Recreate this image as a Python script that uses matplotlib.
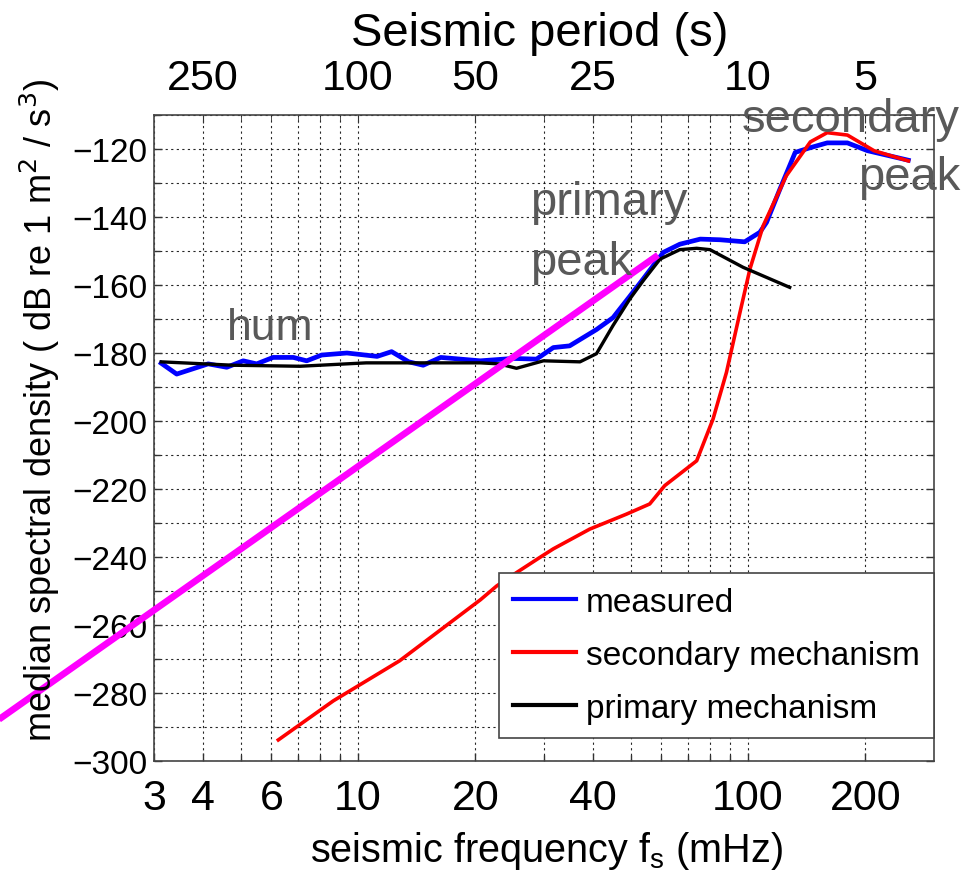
import matplotlib
matplotlib.use("Agg")
import matplotlib.pyplot as plt
from matplotlib.ticker import NullFormatter

plt.rcParams['font.family'] = ['Liberation Sans', 'DejaVu Sans']

# measured median spectral density
meas_f = [3.13, 3.43, 4.13, 4.61, 5.08, 5.5, 6.06, 6.83, 7.39, 8.07, 9.37, 11.2, 12.2,
          13.5, 14.7, 16.3, 20.6, 25.0, 28.7, 31.7, 34.9, 40.9, 45.1, 49.8, 53.9, 60.7,
          66.9, 75.5, 84.9, 98.1, 107.3, 111.6, 120.8, 132.2, 144.6, 159.7, 179.9, 202.6,
          257.8]
meas_db = [-183.0, -186.2, -183.2, -184.2, -182.3, -183.2, -181.3, -181.3, -182.3, -180.6,
           -180.0, -181.0, -179.6, -182.6, -183.6, -181.3, -182.3, -181.6, -181.8, -178.4,
           -177.9, -173.1, -169.6, -163.3, -158.2, -150.4, -148.0, -146.5, -146.7, -147.3,
           -144.5, -141.6, -131.8, -121.0, -119.6, -118.2, -118.2, -120.5, -123.3]

# secondary mechanism model
sec_f = [6.25, 8.65, 12.8, 20.6, 22.7, 25.5, 29.3, 31.7, 39.3, 48.8, 56.0, 61.2, 73.9,
         81.4, 88.1, 95.4, 101.2, 109.4, 125.4, 144.6, 159.7, 179.9, 210.5, 257.8]
sec_db = [-293.8, -282.3, -270.5, -252.6, -248.5, -244.6, -240.1, -237.6, -231.8, -227.4,
          -224.4, -219.0, -211.7, -199.4, -185.7, -168.1, -155.3, -142.6, -127.9, -117.9,
          -115.2, -115.9, -120.5, -123.5]

# primary mechanism model
prim_f = [3.13, 4.79, 7.1, 10.5, 20.6, 23.0, 25.5, 29.9, 37.1, 40.9, 45.1, 49.8, 53.9,
          59.5, 66.9, 73.9, 79.9, 97.2, 128.0]
prim_db = [-182.6, -183.6, -183.9, -182.9, -182.9, -183.2, -184.5, -182.3, -182.6, -180.2,
           -171.9, -164.1, -158.7, -152.4, -149.6, -149.2, -149.6, -154.8, -160.7]

# f^8 slope guide line
slope_f = [1.2, 58.8]
slope_db = [-287.8, -151.2]

xticks = [3, 4, 6, 10, 20, 40, 100, 200]
xminor = [5, 7, 8, 9, 30, 50, 60, 70, 80, 90]
period_ticks = [250, 100, 50, 25, 10, 5]
yticks = list(range(-300, -119, 20))
yminor = list(range(-290, -109, 20))

fig = plt.figure(figsize=(9.65, 8.78), dpi=100)
ax = fig.add_axes([154 / 965, (878 - 762) / 878, 780 / 965, 646 / 878])

ax.plot(meas_f, meas_db, color='#0000ff', lw=3.4, label='measured', zorder=3)
ax.plot(sec_f, sec_db, color='#ff0000', lw=2.6, label='secondary mechanism', zorder=4)
ax.plot(prim_f, prim_db, color='black', lw=2.4, label='primary mechanism', zorder=5)
ax.plot(slope_f, slope_db, color='#ff00ff', lw=4.8, clip_on=False, zorder=6,
        solid_capstyle='butt')

ax.set_xscale('log')
ax.set_xlim(3, 300)
ax.set_ylim(-300, -110)

ax.set_xticks(xticks)
ax.set_xticklabels([str(t) for t in xticks])
ax.set_xticks(xminor, minor=True)
ax.xaxis.set_minor_formatter(NullFormatter())
ax.set_yticks(yticks)
ax.set_yticks(yminor, minor=True)

ax.grid(which='both', color='black', linestyle=(0, (2, 3)), linewidth=0.8, alpha=0.85)
ax.tick_params(axis='x', which='both', direction='in', top=False, labelsize=31, pad=12)
ax.tick_params(axis='y', which='both', direction='in', right=True, labelsize=24, pad=5)
ax.tick_params(which='major', length=6, width=1, color='#333333')
ax.tick_params(which='minor', length=4, width=1, color='#333333')
for s in ax.spines.values():
    s.set_color('#444444')
    s.set_linewidth(1.2)

# top axis: seismic period
ax2 = ax.twiny()
ax2.set_xscale('log')
ax2.set_xlim(ax.get_xlim())
ax2.set_xticks([1000 / p for p in period_ticks])
ax2.set_xticklabels([str(p) for p in period_ticks])
ax2.set_xticks([5, 6, 7, 8, 9, 30, 50, 60, 70, 80, 90], minor=True)
ax2.xaxis.set_minor_formatter(NullFormatter())
ax2.tick_params(which='both', direction='in', labelsize=31, pad=12, color='#333333')
ax2.tick_params(which='major', length=6)
ax2.tick_params(which='minor', length=4)
for s in ax2.spines.values():
    s.set_visible(False)

gray = '#595959'
ax.text(5.95, -175.9, 'hum', fontsize=32, color=gray, ha='center', va='baseline', zorder=7)
ax.text(27.6, -139.1, 'primary', fontsize=34, color=gray, ha='left', va='baseline', zorder=7)
ax.text(27.6, -156.8, 'peak', fontsize=34, color=gray, ha='left', va='baseline', zorder=7)
ax.text(350, -114.7, 'secondary', fontsize=34, color=gray, ha='right', va='baseline', zorder=7)
ax.text(350, -131.8, 'peak', fontsize=34, color=gray, ha='right', va='baseline', zorder=7)

leg = ax.legend(loc='lower right', bbox_to_anchor=(1.0, 23 / 646), borderaxespad=0,
                fontsize=24, fancybox=False, framealpha=1, edgecolor='#444444',
                handlelength=1.9, handletextpad=0.3, labelspacing=0.66, borderpad=0.42)
leg.get_frame().set_linewidth(1.2)
for line in leg.get_lines():
    line.set_linewidth(3.0)
leg.set_zorder(10)

fig.text(540 / 965, 1 - 34 / 878, 'Seismic period (s)', fontsize=34, ha='center', va='center')
fig.text(40 / 965, 1 - 410 / 878, r'median spectral density ( dB re 1 m$^2$ / s$^3$)',
         fontsize=26, rotation=90, ha='center', va='center')
fig.text(546 / 965, 1 - 862 / 878, r'seismic frequency f$_\mathregular{s}$ (mHz)',
         fontsize=28.5, ha='center', va='baseline')

fig.savefig('out.png', dpi=100)
